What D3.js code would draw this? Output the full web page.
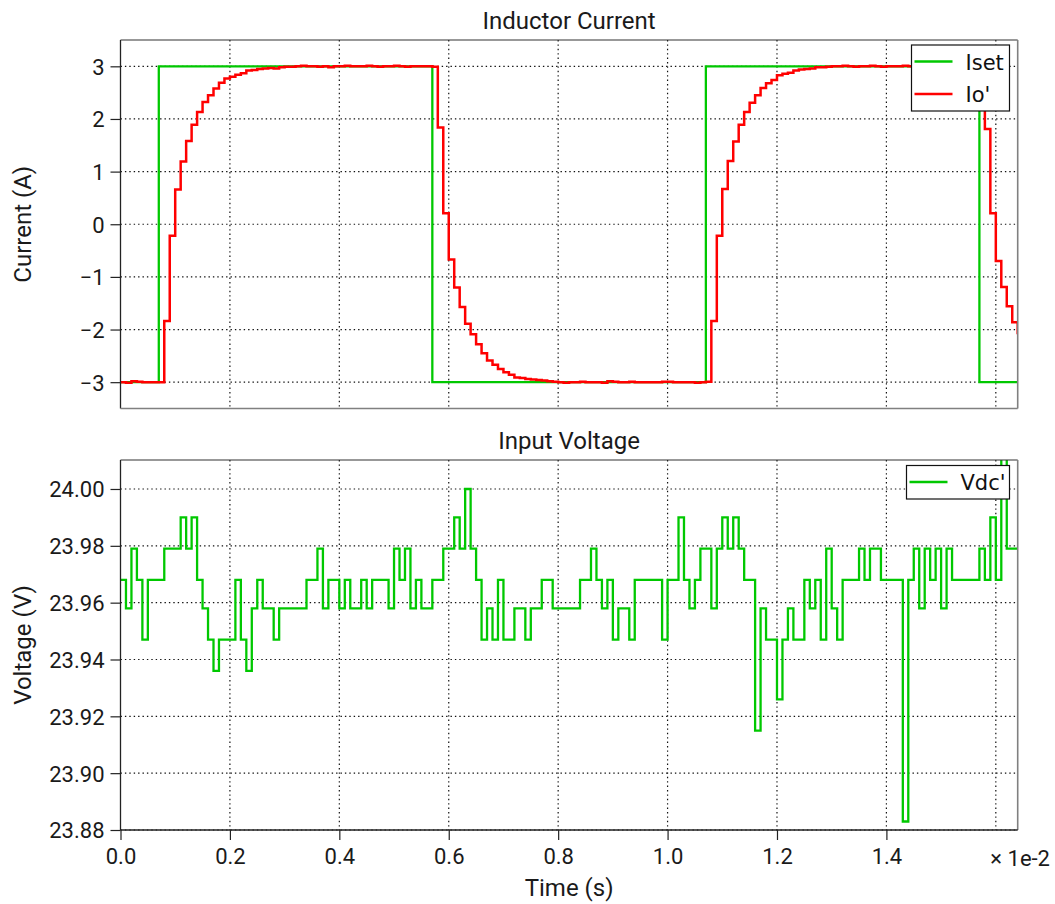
<!DOCTYPE html>
<html>
<head>
<meta charset="utf-8">
<script src="https://cdn.jsdelivr.net/npm/d3@7"></script>
<style>
  body { margin: 0; background: #fff; }
  svg { display: block; }
  .tick text { font-family: Roboto, sans-serif; font-size: 22px; fill: #1a1a1a; }
  .tick line { stroke: #222; stroke-width: 1.2; }
  .grid line { stroke: #111; stroke-width: 1.2; stroke-dasharray: 1.4,3; }
  .ttl { font-family: Roboto, sans-serif; font-size: 24px; fill: #1a1a1a; }
  .leg { font-family: "DejaVu Sans", sans-serif; font-size: 21px; fill: #111; }
</style>
</head>
<body>
<svg id="chart" width="1055" height="904"></svg>
<script>
// time axis is in units of 1e-2 s, one sample every 1e-4 s
const SAMPLE_T = 0.01;
const T_END = 1.64;

const xTicks = [0.0, 0.2, 0.4, 0.6, 0.8, 1.0, 1.2, 1.4];
const xGrid = [0.2, 0.4, 0.6, 0.8, 1.0, 1.2, 1.4, 1.6];
const currentTicks = [-3, -2, -1, 0, 1, 2, 3];
const voltTicks = [23.88, 23.90, 23.92, 23.94, 23.96, 23.98, 24.00];

// current setpoint (square wave)
const isetTimes = [0, 0.07, 0.57, 1.07, 1.57, 1.64];
const isetValues = [-3, 3, -3, 3, -3, -3];

// measured current Io', one value per sample
const ioValues = [
  -3.00, -3.01, -2.98, -2.99, -3.00, -3.00, -3.00, -3.00, -1.84, -0.22,
   0.66,  1.19,  1.58,  1.89,  2.13,  2.32,  2.45,  2.58,  2.69,  2.77,
   2.80,  2.84,  2.87,  2.92,  2.93,  2.95,  2.96,  2.97,  2.96,  2.98,
   2.99,  2.99,  3.00,  3.01,  3.00,  3.00,  2.99,  3.00,  2.98,  3.00,
   3.00,  3.01,  3.00,  3.00,  3.00,  3.01,  3.00,  2.99,  3.00,  3.00,
   3.01,  3.00,  2.99,  3.00,  3.00,  3.00,  3.00,  2.99,  1.84,  0.21,
  -0.67, -1.20, -1.57, -1.89, -2.09, -2.28, -2.45, -2.59, -2.67, -2.75,
  -2.81, -2.86, -2.91, -2.92, -2.94, -2.95, -2.96, -2.97, -2.98, -2.99,
  -3.00, -3.01, -3.00, -3.00, -2.99, -3.00, -3.00, -3.00, -3.01, -2.98,
  -2.99, -3.00, -3.00, -2.99, -3.00, -3.00, -3.00, -3.00, -3.00, -2.99,
  -2.99, -3.00, -3.00, -3.00, -3.00, -3.01, -3.00, -2.99, -1.84, -0.22,
   0.67,  1.20,  1.57,  1.89,  2.13,  2.31,  2.45,  2.59,  2.68,  2.74,
   2.83,  2.86,  2.88,  2.92,  2.94,  2.95,  2.96,  2.98,  2.98,  2.99,
   3.00,  3.00,  3.01,  3.00,  2.99,  3.00,  3.00,  3.01,  3.00,  2.99,
   3.00,  3.00,  3.00,  3.01,  3.00,  3.00,  3.00,  3.00,  3.00,  3.00,
   3.00,  3.00,  3.00,  3.00,  3.00,  3.00,  3.00,  3.00,  1.81,  0.21,
  -0.70, -1.19, -1.56, -1.86, -2.09
];

// input voltage Vdc', one value per sample
const vdcValues = [
  23.968, 23.958, 23.979, 23.968, 23.947, 23.968, 23.968, 23.968, 23.979, 23.979,
  23.979, 23.990, 23.979, 23.990, 23.968, 23.958, 23.947, 23.936, 23.947, 23.947,
  23.947, 23.968, 23.947, 23.936, 23.958, 23.968, 23.958, 23.958, 23.947, 23.958,
  23.958, 23.958, 23.958, 23.958, 23.968, 23.968, 23.979, 23.958, 23.968, 23.968,
  23.958, 23.968, 23.958, 23.958, 23.968, 23.958, 23.968, 23.968, 23.968, 23.958,
  23.979, 23.968, 23.979, 23.958, 23.968, 23.958, 23.958, 23.968, 23.968, 23.979,
  23.979, 23.990, 23.979, 24.000, 23.979, 23.968, 23.947, 23.958, 23.947, 23.968,
  23.947, 23.947, 23.958, 23.958, 23.947, 23.958, 23.958, 23.968, 23.968, 23.958,
  23.958, 23.958, 23.958, 23.958, 23.968, 23.968, 23.979, 23.968, 23.958, 23.968,
  23.947, 23.958, 23.958, 23.947, 23.968, 23.968, 23.968, 23.968, 23.968, 23.947,
  23.968, 23.968, 23.990, 23.968, 23.958, 23.968, 23.979, 23.979, 23.958, 23.979,
  23.990, 23.979, 23.990, 23.979, 23.968, 23.968, 23.915, 23.958, 23.947, 23.947,
  23.926, 23.947, 23.958, 23.947, 23.947, 23.968, 23.958, 23.968, 23.947, 23.979,
  23.958, 23.947, 23.968, 23.968, 23.968, 23.979, 23.968, 23.979, 23.979, 23.968,
  23.968, 23.968, 23.968, 23.883, 23.968, 23.979, 23.958, 23.979, 23.968, 23.979,
  23.958, 23.979, 23.968, 23.968, 23.968, 23.968, 23.968, 23.979, 23.968, 23.990,
  23.968, 24.011, 23.979, 23.979
];

const GREEN = "#00c800";
const RED = "#ff0000";

const svg = d3.select("#chart");
const PLOT_L = 120.5, PLOT_R = 1017.7;

const xScale = d3.scaleLinear().domain([0, T_END]).range([PLOT_L, PLOT_R]);

// samples -> points (step after), last value held to the end
function toPoints(values) {
  let pts = values.map((v, i) => ({t: i * SAMPLE_T, v: v}));
  let last = pts[pts.length - 1];
  if (last.t < T_END) pts.push({t: T_END, v: last.v});
  return pts;
}

function drawPanel(id, y0, y1, yDomain, yTicks, yFormat, title, yLabel) {
  const yScale = d3.scaleLinear().domain(yDomain).range([y1, y0]);
  const g = svg.append("g").attr("id", id);

  g.append("clipPath").attr("id", id + "-clip")
    .append("rect")
    .attr("x", PLOT_L).attr("y", y0)
    .attr("width", PLOT_R - PLOT_L).attr("height", y1 - y0);

  // grid
  const grid = g.append("g").attr("class", "grid");
  grid.selectAll(".gx").data(xGrid).enter().append("line")
    .attr("x1", d => xScale(d)).attr("x2", d => xScale(d))
    .attr("y1", y0).attr("y2", y1);
  grid.selectAll(".gy").data(yTicks).enter().append("line")
    .attr("x1", PLOT_L).attr("x2", PLOT_R)
    .attr("y1", d => yScale(d)).attr("y2", d => yScale(d));

  // y axis
  const yAxis = g.append("g")
    .attr("transform", `translate(${PLOT_L}, 0)`)
    .call(d3.axisLeft(yScale).tickValues(yTicks).tickFormat(yFormat).tickSize(10).tickPadding(6));
  yAxis.select(".domain").remove();
  yAxis.selectAll(".tick text").attr("dy", "0.36em");

  // title
  g.append("text")
    .attr("class", "ttl")
    .attr("x", (PLOT_L + PLOT_R) / 2)
    .attr("y", y0 - 11)
    .attr("text-anchor", "middle")
    .text(title);

  g.append("text")
    .attr("class", "ttl")
    .attr("transform", "rotate(-90)")
    .attr("x", -(y0 + y1) / 2)
    .attr("y", 31)
    .attr("text-anchor", "middle")
    .text(yLabel);

  const plot = g.append("g").attr("clip-path", `url(#${id}-clip)`);

  return {g: g, plot: plot, yScale: yScale, y0: y0, y1: y1};
}

function drawFrame(p, bottomDark) {
  p.g.append("line").attr("x1", PLOT_L).attr("x2", PLOT_L).attr("y1", p.y0).attr("y2", p.y1)
    .attr("stroke", "#222").attr("stroke-width", 1.3);
  p.g.append("line").attr("x1", PLOT_L).attr("x2", PLOT_R).attr("y1", p.y0).attr("y2", p.y0)
    .attr("stroke", "#333").attr("stroke-width", 1.2);
  p.g.append("line").attr("x1", PLOT_R).attr("x2", PLOT_R).attr("y1", p.y0).attr("y2", p.y1)
    .attr("stroke", "#808080").attr("stroke-width", 1.6);
  p.g.append("line").attr("x1", PLOT_L).attr("x2", PLOT_R).attr("y1", p.y1).attr("y2", p.y1)
    .attr("stroke", bottomDark ? "#222" : "#808080").attr("stroke-width", 1.5);
}

function legend(g, x, y, w, entries) {
  const rowH = 32.5;
  g.append("rect")
    .attr("x", x).attr("y", y)
    .attr("width", w).attr("height", entries.length * rowH + 1)
    .attr("fill", "#fff").attr("stroke", "#111").attr("stroke-width", 1.2);
  entries.forEach((e, i) => {
    const cy = y + 16.5 + i * rowH;
    g.append("line")
      .attr("x1", x + 3).attr("x2", x + 41)
      .attr("y1", cy).attr("y2", cy)
      .attr("stroke", e.color).attr("stroke-width", 2.5);
    g.append("text")
      .attr("class", "leg")
      .attr("x", x + 54).attr("y", cy + 8)
      .text(e.name);
  });
}

// ---- Inductor current ----
const curPanel = drawPanel("cur", 40, 408.5, [-3.5, 3.5], currentTicks, d3.format("d"),
  "Inductor Current", "Current (A)");

const isetPts = isetTimes.map((t, i) => ({t: t, v: isetValues[i]}));
const lineCur = d3.line()
  .x(d => xScale(d.t))
  .y(d => curPanel.yScale(d.v))
  .curve(d3.curveStepAfter);

curPanel.plot.append("path")
  .datum(isetPts)
  .attr("d", lineCur)
  .attr("fill", "none")
  .attr("stroke", GREEN)
  .attr("stroke-width", 2.3);

curPanel.plot.append("path")
  .datum(ioValues.map((v, i) => ({t: i * SAMPLE_T, v: v})))
  .attr("d", lineCur)
  .attr("fill", "none")
  .attr("stroke", RED)
  .attr("stroke-width", 2.5);

drawFrame(curPanel, false);
legend(curPanel.g, 911.5, 45, 98, [{name: "Iset", color: GREEN}, {name: "Io'", color: RED}]);

// ---- Input voltage ----
const volPanel = drawPanel("vdc", 460, 830, [23.88, 24.0102], voltTicks, d3.format(".2f"),
  "Input Voltage", "Voltage (V)");

const lineVol = d3.line()
  .x(d => xScale(d.t))
  .y(d => volPanel.yScale(d.v))
  .curve(d3.curveStepAfter);

volPanel.plot.append("path")
  .datum(toPoints(vdcValues))
  .attr("d", lineVol)
  .attr("fill", "none")
  .attr("stroke", GREEN)
  .attr("stroke-width", 2.3);

drawFrame(volPanel, true);
legend(volPanel.g, 906.5, 465.5, 103, [{name: "Vdc'", color: GREEN}]);

// x axis (bottom panel only)
const xAxis = svg.append("g")
  .attr("transform", `translate(0, 830)`)
  .call(d3.axisBottom(xScale).tickValues(xTicks).tickFormat(d3.format(".1f")).tickSize(10).tickPadding(8));
xAxis.select(".domain").remove();

svg.append("text")
  .attr("class", "ttl")
  .attr("x", 1050)
  .attr("y", 866)
  .attr("text-anchor", "end")
  .style("font-size", "22px")
  .text("× 1e-2");

svg.append("text")
  .attr("class", "ttl")
  .attr("x", (PLOT_L + PLOT_R) / 2)
  .attr("y", 896)
  .attr("text-anchor", "middle")
  .text("Time (s)");
</script>
</body>
</html>
